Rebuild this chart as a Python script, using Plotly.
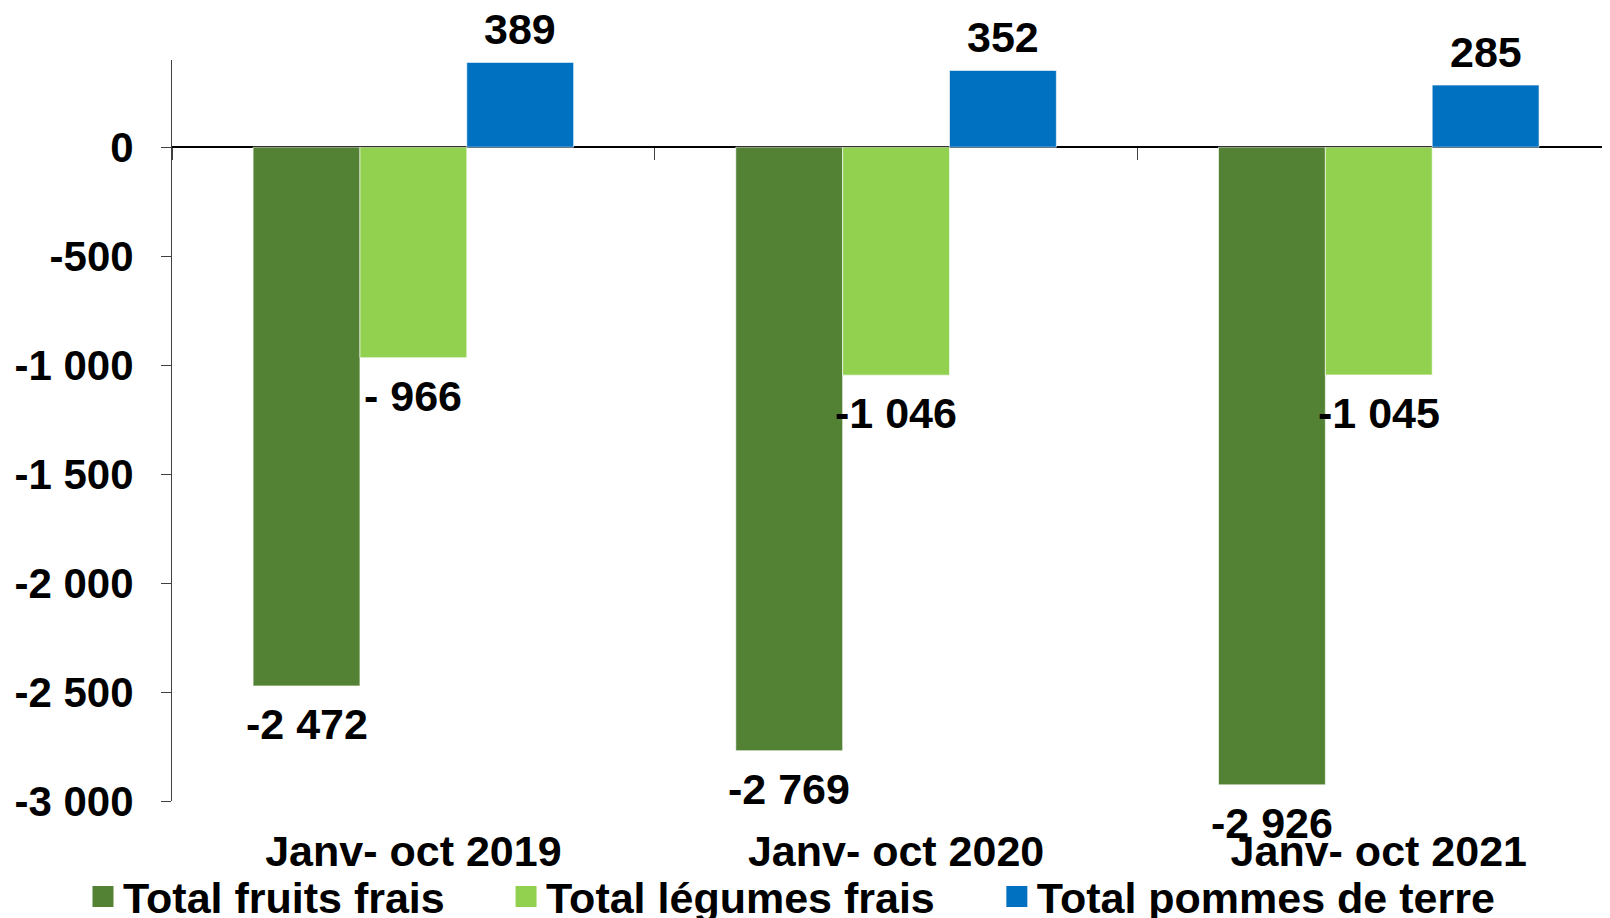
import plotly.graph_objects as go

# -----------------------------------------------------------------------------
# DONNEES
# -----------------------------------------------------------------------------
periodes = ["Janv- oct 2019", "Janv- oct 2020", "Janv- oct 2021"]

fruits = [-2472, -2769, -2926]
legumes = [-966, -1046, -1045]
pommes = [389, 352, 285]

fruits_txt = ["-2 472", "-2 769", "-2 926"]
legumes_txt = ["- 966", "-1 046", "-1 045"]
pommes_txt = ["389", "352", "285"]

yticks = [0, -500, -1000, -1500, -2000, -2500, -3000]


def fmt(v):
    return f"{v:,}".replace(",", " ")


police = "Liberation Sans, Arial, sans-serif"
# la page a une marge de 8 px : figure un peu plus petite que la fenetre
W, H = 1602, 910
ML, MR, MT, MB = 164, 0, 52, 117
xrange_ = [-0.5, 2.479]
bargap = 0.336

# largeur d'une barre en pixels (pour placer les etiquettes)
cat_px = (W - ML - MR) / (xrange_[1] - xrange_[0])
bar_px = cat_px * (1 - bargap) / 3

# -----------------------------------------------------------------------------
# PLOT
# -----------------------------------------------------------------------------
fig = go.Figure()

series = [
    ("Total fruits frais", fruits, fruits_txt, "#548235", "legend"),
    ("Total légumes frais", legumes, legumes_txt, "#92D050", "legend2"),
    ("Total pommes de terre", pommes, pommes_txt, "#0070C0", "legend3"),
]
for k, (nom, vals, txt, col, leg) in enumerate(series):
    fig.add_trace(go.Bar(x=periodes, y=vals, name=nom, showlegend=False,
                         marker=dict(color=col, line=dict(width=1, color="rgba(255,255,255,0.6)"))))
    # etiquettes de valeurs
    for p, v, t in zip(periodes, vals, txt):
        fig.add_annotation(x=p, y=v, text=t, showarrow=False,
                           xshift=(k - 1) * bar_px,
                           yanchor="bottom" if v > 0 else "top",
                           yshift=7 if v > 0 else -12,
                           font=dict(family=police, size=43, color="black", weight="bold"))

# entrees de legende (carres plus grands que ceux des barres)
for nom, vals, txt, col, leg in series:
    fig.add_trace(go.Scatter(x=[None], y=[None], name=nom, legend=leg, mode="markers",
                             marker=dict(symbol="square", size=16, color=col,
                                         line=dict(width=5, color=col)),
                             hoverinfo="skip"))

# axe secondaire pour les graduations sur la ligne du zero
fig.add_trace(go.Scatter(x=periodes, y=[None] * 3, xaxis="x2", showlegend=False,
                         hoverinfo="skip"))

leg_style = dict(orientation="h", y=-0.129, xanchor="left", yanchor="middle",
                 font=dict(family=police, size=43, color="black", weight="bold"),
                 bgcolor="rgba(0,0,0,0)")

fig.update_layout(
    template="none",
    width=W, height=H,
    margin=dict(l=ML, r=MR, t=MT, b=MB, autoexpand=False),
    paper_bgcolor="white", plot_bgcolor="white",
    barmode="group", bargap=bargap, bargroupgap=0,
    font=dict(family=police, size=43, color="black", weight="bold"),
    xaxis=dict(type="category", range=xrange_, showgrid=False, showline=False,
               zeroline=False, ticks="", ticklabelstandoff=21, automargin=False,
               tickfont=dict(family=police, size=43, color="black", weight="bold")),
    xaxis2=dict(type="category", overlaying="x", matches="x", anchor="free",
                position=3000 / 3400, side="bottom", showgrid=False, showline=False,
                zeroline=False, ticks="outside", tickson="boundaries", ticklen=12,
                tickcolor="#404040", showticklabels=False, automargin=False),
    yaxis=dict(range=[-3000, 400], showgrid=False, showline=True, linecolor="#404040",
               linewidth=1, ticks="outside", ticklen=10, tickcolor="#404040",
               zeroline=True, zerolinecolor="black", zerolinewidth=1.5,
               tickvals=yticks, ticktext=[fmt(v) for v in yticks],
               ticklabelstandoff=19, automargin=False,
               tickfont=dict(family=police, size=42, color="black", weight="bold")),
    legend=dict(x=-0.0619, **leg_style),
    legend2=dict(x=0.2323, **leg_style),
    legend3=dict(x=0.5736, **leg_style),
    showlegend=True,
)

fig.write_html("out.html")
